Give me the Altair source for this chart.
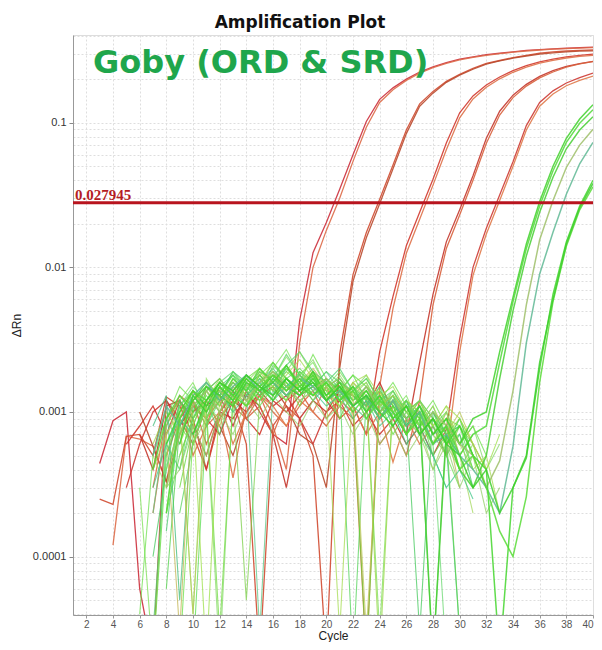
import altair as alt
import pandas as pd

# ---------------- values (ΔRn in units of 1e-4) ----------------
x_ticks = [2, 4, 6, 8, 10, 12, 14, 16, 18, 20, 22, 24, 26, 28, 30, 32, 34, 36, 38, 40]
y_grid = [0.00004, 0.00005, 0.00006, 0.00007, 0.00008, 0.00009,
          0.0001, 0.0002, 0.0003, 0.0004, 0.0005, 0.0006, 0.0007, 0.0008, 0.0009,
          0.001, 0.002, 0.003, 0.004, 0.005, 0.006, 0.007, 0.008, 0.009,
          0.01, 0.02, 0.03, 0.04, 0.05, 0.06, 0.07, 0.08, 0.09,
          0.1, 0.2, 0.3, 0.4]
threshold = [0.027945]

# red (positive) wells: start cycle, values
red_a1 = [4.4, 8.7, 10, 0.6, 0.2, 12, 9, 6, 11, 13, 8, 14, 10, 7, 6,
          43, 126, 204, 347, 600, 1020, 1450, 1740, 2000, 2240, 2430, 2600, 2750,
          2850, 2950, 3020, 3090, 3160, 3200, 3240, 3270, 3300, 3330]
red_a2 = [1.2, 6.8, 6.5, 5.8, 3.3, 9, 12, 8, 15, 11, 9, 13, 8, 4,
          30, 100, 180, 300, 540, 930, 1380, 1690, 1960, 2200, 2400, 2570, 2720,
          2830, 2920, 3000, 3070, 3130, 3180, 3220, 3250, 3280, 3300]
red_b1 = [2.5, 2.3, 6.8, 7, 5, 12.7, 11, 7, 4, 9, 12, 6, 0.2, 8, 11, 9, 5, 0.2,
          25, 89, 174, 295, 510, 890, 1350, 1640, 1930, 2160, 2370, 2570, 2690,
          2820, 2920, 3020, 3090, 3130, 3160, 3180]
red_b2 = [10, 5.8, 3.3, 7, 10, 12, 8, 5, 10, 13, 15, 11, 7, 6, 3,
          20, 80, 160, 275, 480, 840, 1300, 1600, 1900, 2130, 2340, 2540, 2670,
          2790, 2890, 2980, 3040, 3090, 3120, 3140]
red_c1 = [6, 8, 11, 7, 12, 9, 4, 10, 14, 9, 7, 12, 10, 13, 15, 12, 9, 11, 7,
          26, 63, 141, 240, 407, 724, 1170, 1530, 1820, 2070, 2290, 2480, 2630,
          2750, 2850, 2920, 2980]
red_c2 = [3, 9, 12, 5, 8, 10, 3.5, 11, 13, 10, 8, 11, 14, 9, 12, 10, 0.2,
          15, 52, 125, 215, 370, 650, 1080, 1460, 1760, 2010, 2230, 2420, 2580,
          2700, 2800, 2870, 2920]
red_d1 = [7, 4, 11, 12, 8, 5, 10, 9, 13, 11, 7, 3, 9, 12, 10, 14, 13, 11, 16, 10, 7,
          22, 65, 150, 250, 430, 780, 1200, 1550, 1840, 2090, 2290, 2450, 2560, 2650]
red_d2 = [5, 9, 12, 6, 10, 13, 9, 11, 7, 12, 14, 10, 8, 11, 9, 12, 6, 8, 5,
          12, 55, 135, 230, 400, 720, 1130, 1490, 1790, 2040, 2240, 2420, 2550, 2640]
red_e1 = [3, 6, 10, 12, 8, 11, 9, 7, 12, 10, 14, 11, 13, 9, 6, 10, 12, 8, 10, 7, 9, 6, 8, 5,
          7.6, 32, 100, 186, 316, 537, 955, 1380, 1660, 1880, 2050, 2200]
red_e2 = [2, 8, 13, 11, 9, 12, 6, 10, 13, 11, 8, 12, 10, 15, 9, 11, 7, 10, 4.5, 9, 6, 8,
          5, 26, 88, 170, 290, 500, 890, 1300, 1580, 1800, 1960, 2100]
red_starts = [3, 4, 3, 6, 5, 7, 6, 8, 5, 7]
red_colors = ["#cc2f3c", "#dd6a48", "#d04a30", "#b94a2e", "#d1382f",
              "#de7048", "#c4362c", "#d8603c", "#cd3a34", "#e07a4a"]

# green (late) wells
grn_1 = [6, 10, 14, 11, 16, 13, 18, 15, 12, 17, 14, 19, 13, 16, 11, 14, 10, 12, 8, 11, 7, 9, 6,
         9, 10, 26, 62, 145, 285, 500, 780, 1060, 1330]
grn_2 = [4, 9, 13, 10, 15, 12, 17, 14, 20, 16, 13, 15, 18, 12, 14, 10, 13, 9, 11, 7, 10, 6, 8, 5,
         7, 8, 22, 58, 135, 265, 465, 730, 990, 1230]
grn_3 = [8, 12, 15, 13, 11, 16, 14, 18, 15, 13, 17, 12, 15, 11, 13, 9, 12, 8, 10, 0.2, 7, 4, 3,
         5, 17, 50, 120, 240, 420, 660, 890, 1100]
grn_4 = [3, 7, 11, 14, 10, 15, 12, 16, 19, 15, 12, 14, 17, 13, 11, 15, 10, 12, 9, 7, 10, 8, 6, 5, 3,
         4.6, 14, 55, 155, 290, 490, 700, 900]
grn_5 = [5, 11, 8, 13, 16, 12, 15, 18, 14, 16, 13, 17, 15, 12, 14, 11, 13, 9, 12, 8, 10, 6, 7, 5, 4, 3, 2,
         5.8, 30, 90, 175, 320, 520, 730]
grn_6 = [6, 13, 10, 15, 12, 17, 14, 16, 21, 15, 13, 16, 12, 15, 10, 13, 9, 11, 7, 9, 6, 8, 5, 4, 0.2, 3,
         4.8, 20, 65, 150, 265, 400]
grn_7 = [2, 9, 14, 12, 16, 13, 11, 15, 18, 14, 17, 13, 16, 12, 14, 9, 12, 10, 7, 9, 6, 8, 4, 5, 3, 1.5, 1,
         2.6, 16, 58, 140, 250, 360]
grn_8 = [7, 12, 16, 14, 18, 15, 13, 17, 14, 16, 12, 15, 11, 13, 10, 8, 11, 7, 9, 6, 5, 3, 4, 2, 3,
         5, 22, 60, 145, 258, 380]
grn_starts = [8, 7, 9, 8, 7, 9, 8, 10]
grn_colors = ["#3fd12a", "#52d93a", "#47cf33", "#9fbf6a", "#5fb894", "#44d62e", "#58dc36", "#3ccf2c"]

# baseline-only (negative) wells
neg_01 = [0.2, 5, 11, 14, 9, 15, 12, 17, 14, 19, 16, 11, 18, 13, 9, 14, 10, 12, 7, 10, 8, 9, 6, 7, 4]
neg_02 = [3, 0.2, 8, 12, 16, 10, 13, 19, 15, 12, 17, 21, 14, 16, 12, 15, 11, 13, 0.3, 12, 9, 11, 8, 6, 9, 5]
neg_03 = [1.5, 9, 13, 10, 15, 18, 12, 16, 20, 15, 13, 18, 12, 14, 11, 9, 13, 10, 7, 11, 8, 5, 7, 3]
neg_04 = [6, 10, 7, 12, 15, 11, 17, 13, 16, 22, 17, 14, 19, 15, 12, 16, 13, 0.2, 12, 10, 8, 11, 7, 9, 6, 4]
neg_05 = [4, 12, 16, 13, 18, 14, 11, 15, 19, 16, 13, 17, 14, 18, 12, 10, 14, 9, 12, 8, 10, 6, 8]
neg_06 = [8, 13, 0.5, 11, 14, 17, 13, 15, 18, 14, 20, 16, 12, 15, 17, 13, 11, 14, 10, 12, 7, 9, 6, 0.3]
neg_07 = [3, 7, 12, 9, 14, 11, 18, 15, 13, 17, 15, 19, 13, 11, 16, 12, 14, 10, 11, 9, 6, 10, 5]
neg_08 = [0.4, 5, 9, 15, 12, 8, 13, 16, 12, 18, 22, 16, 13, 17, 14, 11, 15, 12, 9, 13, 10, 7, 9, 5, 3]
neg_09 = [7, 11, 14, 10, 0.2, 13, 17, 14, 16, 12, 18, 23, 15, 12, 14, 18, 11, 13, 9, 11, 7, 10, 6, 8, 4, 6]
neg_10 = [2, 6, 12, 15, 11, 16, 13, 21, 17, 14, 16, 12, 15, 0.2, 13, 12, 9, 11, 8, 10, 6, 9, 5, 3]
neg_11 = [5, 3, 10, 14, 12, 17, 13, 11, 16, 19, 14, 17, 13, 15, 11, 14, 16, 10, 12, 11, 8, 4, 7, 5, 2]
neg_12 = [0.6, 8, 12, 16, 13, 11, 15, 18, 14, 12, 19, 15, 17, 13, 15, 11, 13, 8, 12, 9, 0.2, 8, 6]
neg_13 = [6, 11, 0.3, 12, 17, 20, 16, 13, 15, 18, 14, 16, 12, 14, 10, 12, 9, 11, 7, 9, 8, 5]
neg_14 = [2, 9, 6, 13, 10, 14, 12, 16, 0.3, 14, 17, 13, 15, 19, 14, 12, 15, 10, 13, 9, 11, 7, 8, 6]
neg_15 = [5, 10, 0.4, 17, 12, 15, 11, 14, 17, 24, 18, 14, 16, 12, 14, 11, 13, 10, 12, 8, 9, 7, 4]
neg_16 = [3, 8, 14, 11, 16, 13, 18, 14, 16, 13, 15, 17, 13, 11, 0.2, 12, 10, 8, 10, 7, 9, 5, 7]
neg_17 = [4, 7, 0.3, 14, 10, 13, 16, 12, 15, 18, 13, 16, 20, 15, 17, 13, 11, 14, 9, 12, 10, 6, 8, 3]
neg_18 = [0.2, 9, 14, 18, 15, 12, 17, 14, 19, 16, 13, 15, 12, 14, 11, 9, 12, 8, 10, 7, 8, 4]
neg_19 = [9, 12, 8, 14, 17, 13, 0.5, 12, 15, 21, 16, 12, 17, 14, 13, 10, 15, 11, 9, 12, 7, 5, 8, 6, 3]
neg_20 = [1, 4, 12, 9, 15, 13, 19, 16, 13, 17, 14, 18, 15, 12, 16, 13, 10, 14, 11, 9, 0.3, 10, 7, 8]
neg_21 = [6, 10, 0.2, 13, 11, 14, 17, 15, 12, 16, 19, 14, 11, 15, 12, 14, 9, 12, 10, 8, 11, 9, 6, 4, 7]
neg_22 = [2, 11, 15, 12, 16, 19, 14, 17, 13, 15, 18, 13, 16, 12, 15, 12, 10, 13, 8, 11, 6, 0.2]
neg_23 = [4, 8, 6, 11, 9, 13, 16, 12, 20, 27, 18, 22, 15, 19, 14, 17, 12, 10, 13, 8, 6, 9, 4]
neg_24 = [0.3, 6, 4, 9, 12, 7, 14, 11, 17, 13, 21, 26, 19, 16, 20, 14, 11, 15, 9, 12, 7, 5, 3]
neg_25 = [5, 9, 12, 8, 15, 11, 19, 14, 18, 23, 17, 13, 0.3, 16, 18, 13, 15, 10, 12, 8, 11, 6, 4, 5, 2]
neg_26 = [2, 5, 9, 13, 10, 14, 18, 15, 22, 17, 20, 16, 13, 17, 12, 15, 11, 13, 7, 10, 5, 7, 0.3]
neg_27 = [6, 9, 13, 10, 16, 20, 15, 19, 26, 18, 14, 18, 13, 16, 11, 14, 10, 8, 11, 6, 4, 6]
neg_28 = [3, 6, 9, 7, 11, 14, 10, 13, 16, 12, 15, 18, 14, 11, 13, 9, 12, 8, 10, 6, 8, 5, 3, 4, 2.5]
neg_29 = [0.2, 7, 11, 15, 12, 17, 13, 16, 20, 16, 25, 17, 14, 18, 15, 12, 16, 11, 9, 12, 8, 6, 8, 5]
neg_30 = [7, 10, 0.4, 12, 14, 11, 15, 19, 16, 14, 18, 15, 12, 16, 13, 0.3, 11, 13, 10, 12, 9, 7, 10, 6, 4]
neg_31 = [8, 12, 16, 14, 19, 17, 25, 18, 15, 19, 16, 14, 17, 12, 14, 10, 12, 9, 7, 5]
neg_32 = [3, 4, 8, 5, 10, 7, 12, 9, 13, 10, 8, 12, 9, 11, 7, 10, 6, 8, 5, 7, 4, 6, 3, 5, 2, 3]
neg_starts = [7, 6, 8, 7, 9, 7, 8, 6, 8, 9, 7, 8, 10, 7, 8, 9, 7, 10, 8, 7, 9, 8,
              8, 7, 9, 8, 10, 7, 9, 8, 11, 8]
neg_colors = ["#5fd93c", "#79e052", "#48c86e", "#97d645", "#62dd4a", "#3fbb7a", "#b2c64c", "#6fe04f",
              "#86d86a", "#54d35a", "#a3d85c", "#4fcf48", "#70dc3f", "#5cc98a", "#8fe060", "#66d63a",
              "#c2b452", "#58dd50", "#7ccf4a", "#45c95e", "#9ee04a", "#69d870",
              "#7de35c", "#4ed06a", "#a6dc52", "#5ed84a", "#8ad85e", "#3fc788", "#6be048", "#b8c856",
              "#59d462", "#94cf6a"]

title_text = "Amplification Plot"
annotation_text = "Goby (ORD & SRD)"

# ---------------- build tables ----------------
def build(groups, starts, colors, prefix):
    rows = []
    for k, (vals, s, col) in enumerate(zip(groups, starts, colors)):
        for i, v in enumerate(vals):
            rows.append({"id": f"{prefix}{k:02d}", "cycle": s + i, "dRn": v * 1e-4, "col": col})
    return pd.DataFrame(rows)

neg_df = build([neg_01, neg_02, neg_03, neg_04, neg_05, neg_06, neg_07, neg_08, neg_09, neg_10, neg_11,
                neg_12, neg_13, neg_14, neg_15, neg_16, neg_17, neg_18, neg_19, neg_20, neg_21, neg_22,
                neg_23, neg_24, neg_25, neg_26, neg_27, neg_28, neg_29, neg_30, neg_31, neg_32],
               neg_starts, neg_colors, "N")
grn_df = build([grn_1, grn_2, grn_3, grn_4, grn_5, grn_6, grn_7, grn_8], grn_starts, grn_colors, "G")
red_df = build([red_a1, red_a2, red_b1, red_b2, red_c1, red_c2, red_d1, red_d2, red_e1, red_e2],
               red_starts, red_colors, "R")

xscale = alt.Scale(domain=[1, 40], nice=False, zero=False)
yscale = alt.Scale(type="log", domain=[3.95e-5, 0.4037], nice=False)

decade_test = "abs(log(datum.value)/LN10 - round(log(datum.value)/LN10)) < 0.000001"

x_enc = alt.X("cycle:Q", scale=xscale, axis=alt.Axis(
    values=x_ticks, title="Cycle", labelFont="Liberation Sans", labelFontSize=10, labelColor="#555555",
    labelPadding=1, tickSize=3, tickColor="#999999", domainColor="#999999",
    grid=True, gridColor="#dedede", gridDash=[2, 2],
    titleFont="Liberation Sans", titleFontSize=12, titleFontWeight="normal", titleColor="#222222",
    titleBaseline="alphabetic", titleY=24))
y_enc = alt.Y("dRn:Q", scale=yscale, axis=alt.Axis(
    values=y_grid, labelExpr=f"{decade_test} ? format(datum.value, '~g') : ''",
    labelOverlap=False, labelFont="Liberation Sans", labelFontSize=11, labelColor="#333333",
    labelPadding=3, tickSize=4, tickColor="#888888",
    tickOpacity={"condition": {"test": decade_test, "value": 1}, "value": 0},
    domainColor="#999999", grid=True, gridColor="#dedede", gridDash=[2, 2],
    title="ΔRn", titleFont="Liberation Sans", titleFontSize=12, titleFontWeight="normal",
    titleColor="#222222", titlePadding=9))

def lines(df, width, opacity):
    return alt.Chart(df).mark_line(strokeWidth=width, opacity=opacity, clip=True).encode(
        x=x_enc, y=y_enc, color=alt.Color("col:N", scale=None), detail="id:N",
        order="cycle:Q")

red_layer = lines(red_df, 1.3, 0.9)
neg_layer = lines(neg_df, 1.1, 0.75)
grn_layer = lines(grn_df, 1.5, 0.85)

thr_df = pd.DataFrame({"thr": threshold, "label": [f"{t:.6f}" for t in threshold]})
thr_rule = alt.Chart(thr_df).mark_rule(color="#b8141e", strokeWidth=3).encode(
    y=alt.Y("thr:Q", scale=yscale))
thr_text = alt.Chart(thr_df).mark_text(
    align="left", baseline="alphabetic", dx=2, dy=-3, font="Liberation Serif", fontSize=15,
    fontWeight="bold", color="#b51c24").encode(
    x=alt.value(0), y=alt.Y("thr:Q", scale=yscale), text="label:N")

ann_df = pd.DataFrame({"label": [annotation_text]})
ann = alt.Chart(ann_df).mark_text(
    align="left", baseline="alphabetic", font="DejaVu Sans", fontSize=32, fontWeight="bold",
    color="#1fa64c").encode(x=alt.value(20), y=alt.value(38), text="label:N")

chart = alt.layer(red_layer, neg_layer, grn_layer, thr_rule, thr_text, ann).properties(
    width=520, height=580,
    title=alt.TitleParams(title_text, font="DejaVu Sans", fontSize=17, fontWeight="bold",
                          anchor="middle", dx=-33, dy=10, offset=8, color="#111111"),
    autosize=alt.AutoSizeParams(type="none"),
    padding={"left": 65, "top": 27, "right": 1, "bottom": 27},
).configure_view(stroke="#b5b5b5", strokeWidth=1).configure(background="white")

chart.save("out.html", embed_options={"renderer": "svg", "actions": False})
